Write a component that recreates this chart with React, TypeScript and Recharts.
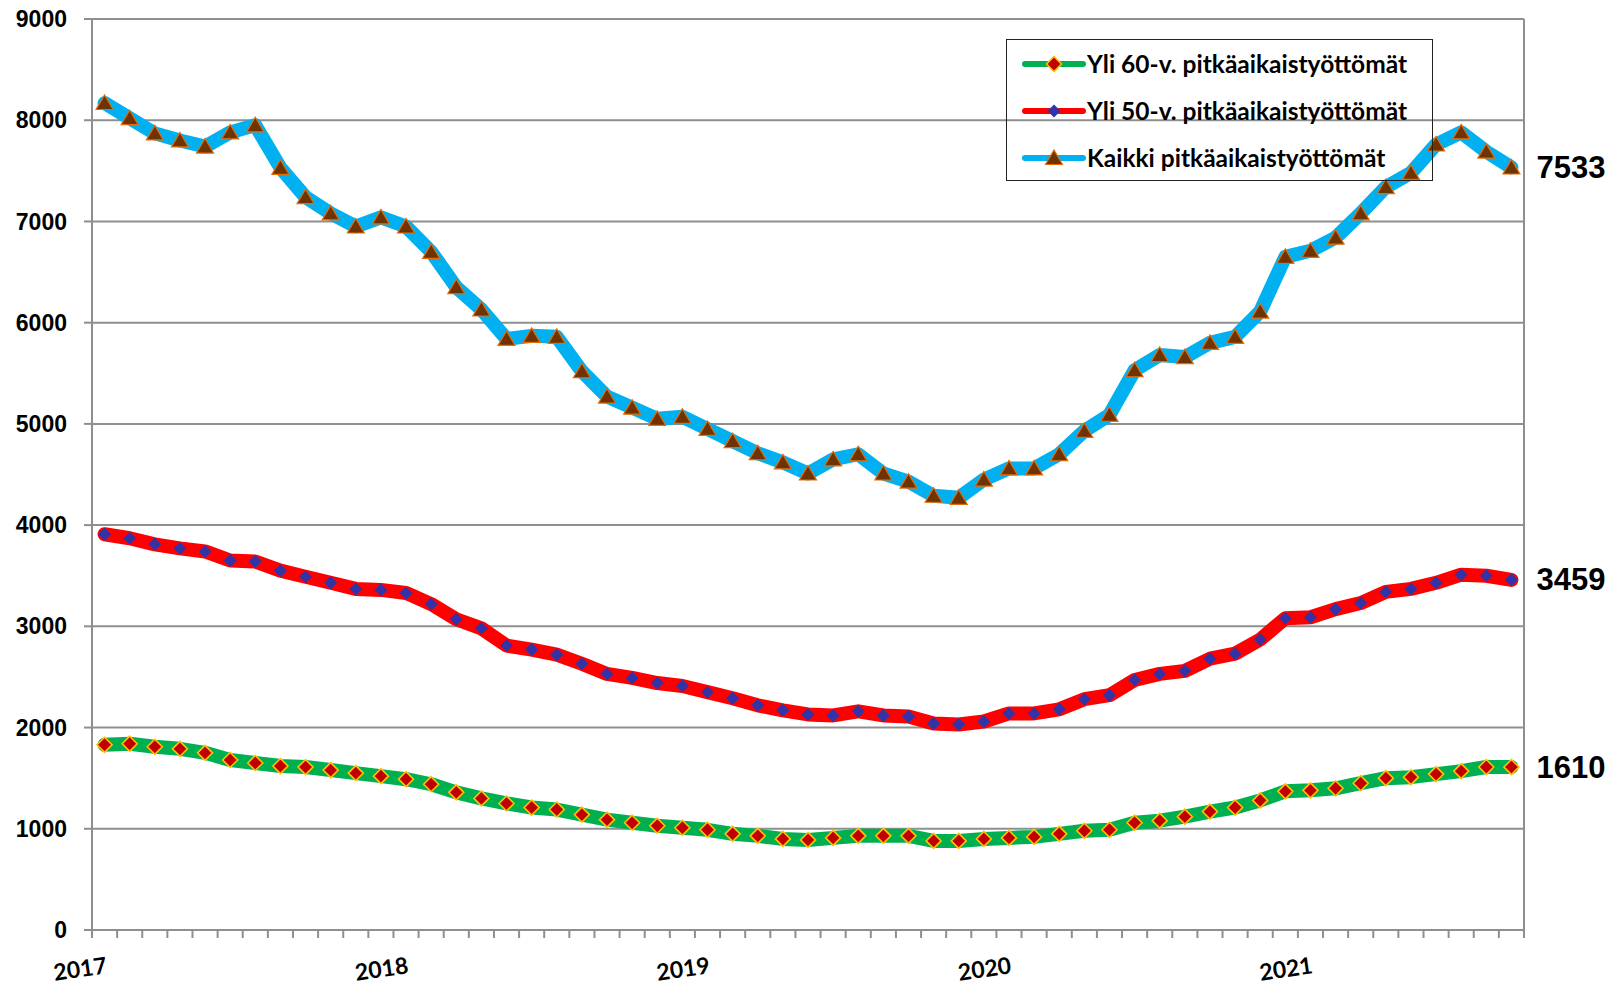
import { LineChart, Line, XAxis, YAxis, CartesianGrid, ReferenceLine, LabelList } from "recharts";

// Pitkäaikaistyöttömät kuukausittain, 2017-01 ... 2021-09
const YEARS = ["2017", "2018", "2019", "2020", "2021"];

const KAIKKI = [
  8170, 8020, 7870, 7800, 7740, 7880, 7950, 7530, 7240, 7080, 6950, 7040,
  6950, 6700, 6350, 6130, 5840, 5870, 5860, 5520, 5270, 5160, 5050, 5070,
  4950, 4830, 4710, 4620, 4510, 4650, 4700, 4510, 4430, 4290, 4270, 4450,
  4560, 4560, 4700, 4930, 5090, 5530, 5680, 5660, 5800, 5860, 6110, 6650,
  6710, 6840, 7080, 7340, 7480, 7760, 7880, 7690, 7533,
];

const YLI50 = [
  3910, 3870, 3810, 3770, 3740, 3650, 3640, 3550, 3490, 3430, 3370, 3360,
  3330, 3220, 3070, 2980, 2810, 2770, 2720, 2630, 2530, 2490, 2440, 2410,
  2350, 2290, 2220, 2170, 2130, 2120, 2160, 2120, 2110, 2040, 2030, 2060,
  2140, 2140, 2180, 2280, 2320, 2470, 2530, 2560, 2680, 2730, 2870, 3080,
  3090, 3170, 3230, 3340, 3370, 3430, 3510, 3500, 3459,
];

const YLI60 = [
  1830, 1840, 1810, 1790, 1750, 1680, 1650, 1620, 1610, 1580, 1550, 1520,
  1490, 1440, 1360, 1300, 1250, 1210, 1190, 1140, 1090, 1060, 1030, 1010,
  990, 950, 930, 900, 890, 910, 930, 930, 930, 880, 880, 900,
  910, 920, 950, 980, 990, 1060, 1080, 1120, 1170, 1210, 1280, 1370,
  1380, 1400, 1450, 1500, 1510, 1540, 1570, 1610, 1610,
];

const Y_TICKS = [0, 1000, 2000, 3000, 4000, 5000, 6000, 7000, 8000, 9000];

const N = KAIKKI.length;
// kuukausi i keskelle omaa lokeroaan (Excelin "tick marks between categories")
const data = KAIKKI.map((v, i) => ({
  x: i + 0.5,
  kaikki: v,
  yli50: YLI50[i],
  yli60: YLI60[i],
}));
const monthTicks = Array.from({ length: N + 1 }, (_, i) => i);

const GRID = "#8f8f8f";
const NUM_FONT = '"Liberation Sans", Arial, sans-serif';
const TXT_FONT = 'Lato, "Open Sans", sans-serif';

const triangle = (cx: number, cy: number) =>
  `M${cx},${cy - 8} L${cx + 8.5},${cy + 6.5} L${cx - 8.5},${cy + 6.5} Z`;
const diamond = (cx: number, cy: number, r: number) =>
  `M${cx},${cy - r} L${cx + r},${cy} L${cx},${cy + r} L${cx - r},${cy} Z`;

const SERIES = [
  { key: "yli60", name: "Yli 60-v. pitkäaikaistyöttömät", color: "#00B050" },
  { key: "yli50", name: "Yli 50-v. pitkäaikaistyöttömät", color: "#FF0000" },
  { key: "kaikki", name: "Kaikki pitkäaikaistyöttömät", color: "#00B0F0" },
];

function Marker({ type, cx, cy }: { type: string; cx: number; cy: number }) {
  if (type === "kaikki")
    return <path d={triangle(cx, cy)} fill="#6E3300" stroke="#E46C0A" strokeWidth={1.2} />;
  if (type === "yli50") return <path d={diamond(cx, cy, 6.5)} fill="#3333A8" />;
  return <path d={diamond(cx, cy, 7.5)} fill="#C00000" stroke="#FFC000" strokeWidth={1.6} />;
}

const dotFor = (type: string) => (props: any) => {
  const { cx, cy, index } = props;
  if (cx == null || cy == null) return <g key={`${type}-${index}`} />;
  return (
    <g key={`${type}-${index}`}>
      <Marker type={type} cx={cx} cy={cy} />
    </g>
  );
};

const endLabel = (props: any) => {
  const { x, y, index, value } = props;
  if (index !== N - 1) return null;
  return (
    <text
      x={x + 25}
      y={y}
      dominantBaseline="central"
      fontFamily={NUM_FONT}
      fontWeight={700}
      fontSize={31}
      fill="#000"
    >
      {value}
    </text>
  );
};

const YearTick = (props: any) => {
  const { x, y, payload } = props;
  const v = payload.value;
  if (v % 12 !== 0 || !YEARS[v / 12]) return <g />;
  const tx = x - 12;
  const ty = y + 30;
  return (
    <text
      x={tx}
      y={ty}
      textAnchor="middle"
      dominantBaseline="central"
      transform={`rotate(-8 ${tx} ${ty})`}
      fontFamily={TXT_FONT}
      fontWeight={700}
      fontSize={23}
      fill="#000"
    >
      {YEARS[v / 12]}
    </text>
  );
};

function LegendBox() {
  return (
    <div
      style={{
        position: "absolute",
        left: 1006,
        top: 39,
        width: 427,
        height: 142,
        boxSizing: "border-box",
        border: "1px solid #222",
        pointerEvents: "none",
      }}
    >
      {SERIES.map((s) => (
        <div key={s.key} style={{ display: "flex", alignItems: "center", height: 47 }}>
          <svg width={73} height={20} style={{ marginLeft: 7, flex: "none" }}>
            <line x1={11} y1={10} x2={69} y2={10} stroke={s.color} strokeWidth={6} strokeLinecap="round" />
            <Marker type={s.key} cx={40} cy={10} />
          </svg>
          <span
            style={{
              fontFamily: TXT_FONT,
              fontWeight: 700,
              fontSize: 24.5,
              lineHeight: "47px",
              color: "#000",
              whiteSpace: "nowrap",
            }}
          >
            {s.name}
          </span>
        </div>
      ))}
    </div>
  );
}

export default function App() {
  return (
    <div style={{ position: "relative", width: 1624, height: 985 }}>
      <style>{"body { margin: 0; overflow: hidden; }"}</style>
      <LineChart
        width={1624}
        height={985}
        data={data}
        margin={{ top: 19, right: 100, left: 32, bottom: 15 }}
      >
        <CartesianGrid horizontal vertical={false} stroke={GRID} strokeWidth={2} />
        <XAxis
          dataKey="x"
          type="number"
          domain={[0, N]}
          ticks={monthTicks}
          interval={0}
          height={40}
          tickSize={8}
          tickMargin={0}
          axisLine={{ stroke: GRID, strokeWidth: 2 }}
          tickLine={{ stroke: GRID, strokeWidth: 2 }}
          tick={<YearTick />}
        />
        <YAxis
          domain={[0, 9000]}
          ticks={Y_TICKS}
          interval={0}
          width={60}
          tickSize={8}
          tickMargin={17}
          axisLine={{ stroke: GRID, strokeWidth: 2 }}
          tickLine={{ stroke: GRID, strokeWidth: 2 }}
          tick={{ fontSize: 23, fontWeight: 700, fill: "#000", fontFamily: NUM_FONT }}
        />
        <ReferenceLine x={N} stroke={GRID} strokeWidth={2} />
        {SERIES.map((s) => (
          <Line
            key={s.key}
            dataKey={s.key}
            name={s.name}
            type="linear"
            stroke={s.color}
            strokeWidth={14}
            strokeLinejoin="round"
            strokeLinecap="round"
            dot={dotFor(s.key)}
            activeDot={false}
            isAnimationActive={false}
          >
            <LabelList dataKey={s.key} content={endLabel} />
          </Line>
        ))}
      </LineChart>
      <LegendBox />
    </div>
  );
}
